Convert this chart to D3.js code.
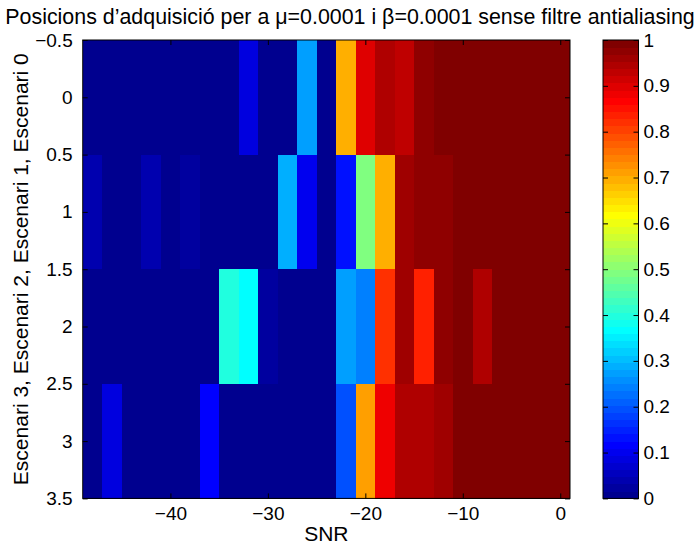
<!DOCTYPE html>
<html>
<head>
<meta charset="utf-8">
<script src="https://cdn.jsdelivr.net/npm/d3@7"></script>
<style>
  html, body { margin: 0; padding: 0; background: #fff; }
  svg { display: block; }
  text { font-family: "Liberation Sans", Arial, Helvetica, sans-serif; fill: #000; }
</style>
</head>
<body>
<svg id="chart" width="700" height="544"></svg>
<script>
// SNR column centres (dB) and scenario rows
const snr = [-48, -46, -44, -42, -40, -38, -36, -34, -32, -30, -28, -26, -24,
             -22, -20, -18, -16, -14, -12, -10, -8, -6, -4, -2, 0];
const scenarios = [0, 1, 2, 3];

// Acquisition rate per SNR for each scenario
const escenari0 = [0, 0, 0, 0, 0, 0, 0, 0, 0.08, 0, 0, 0.27, 0, 0.69, 0.90, 0.94, 0.93, 0.98, 1, 1, 1, 1, 1, 1, 1];
const escenari1 = [0.04, 0, 0, 0.04, 0, 0.02, 0, 0, 0, 0, 0.29, 0.10, 0, 0.13, 0.49, 0.69, 0.96, 0.98, 0.98, 1, 1, 1, 1, 1, 1];
const escenari2 = [0, 0, 0, 0, 0, 0, 0, 0.40, 0.37, 0.02, 0, 0, 0, 0.27, 0.24, 0.82, 0.96, 0.83, 0.98, 1, 0.94, 1, 1, 1, 1];
const escenari3 = [0, 0.08, 0, 0, 0, 0, 0.12, 0, 0, 0, 0, 0, 0, 0.19, 0.71, 0.88, 0.94, 0.94, 0.96, 1, 1, 1, 1, 1, 1];

// Axis ticks
const xTicks = [-40, -30, -20, -10, 0];
const yTicks = [-0.5, 0, 0.5, 1, 1.5, 2, 2.5, 3, 3.5];
const cbTicks = [0, 0.1, 0.2, 0.3, 0.4, 0.5, 0.6, 0.7, 0.8, 0.9, 1];

const titleText = "Posicions d\u2019adquisici\u00f3 per a \u03bc=0.0001 i \u03b2=0.0001 sense filtre antialiasing";
const xLabel = "SNR";
const yLabel = "Escenari 3, Escenari 2, Escenari 1, Escenari 0";

const rows = [escenari0, escenari1, escenari2, escenari3];

// 64-step jet colormap
const N = 64;
function u(k) {
  if (k < 1 || k > 47) return 0;
  if (k <= 16) return k / 16;
  if (k <= 31) return 1;
  return (48 - k) / 16;
}
const jet = d3.range(1, N + 1).map(i => {
  const r = i >= 25 ? u(i - 24) : 0;
  const g = (i >= 9 && i <= 55) ? u(i - 8) : 0;
  const b = i <= 39 ? u(i + 8) : 0;
  return d3.rgb(Math.round(r * 255), Math.round(g * 255), Math.round(b * 255)).formatHex();
});
const colorOf = v => jet[Math.max(0, Math.min(N - 1, Math.floor(v * N)))];

const svg = d3.select("#chart");
const plot = { left: 82.7, right: 570, top: 40, bottom: 498.4 };
const cb = { left: 603, right: 638.5, top: 40, bottom: 498.4 };
const tickFont = "19px";
const labelFont = "21px";

const x = d3.scaleLinear().domain([-49, 1]).range([plot.left, plot.right]);
const y = d3.scaleLinear().domain([-0.5, 3.5]).range([plot.top, plot.bottom]);
const fmt = v => d3.format("")(v).replace("-", "\u2212");

// Heatmap cells
const cells = [];
rows.forEach((vals, r) => vals.forEach((v, c) => cells.push({ s: snr[c], r: scenarios[r], v })));
svg.append("g").selectAll("rect").data(cells).join("rect")
  .attr("x", d => x(d.s - 1))
  .attr("y", d => y(d.r - 0.5))
  .attr("width", d => x(d.s + 1) - x(d.s - 1) + 0.4)
  .attr("height", d => y(d.r + 0.5) - y(d.r - 0.5) + 0.4)
  .attr("fill", d => colorOf(d.v))
  .attr("shape-rendering", "crispEdges");

// Axes with inward ticks
const tickLen = 5;
const ax = (g) => {
  g.select(".domain").remove();
  g.selectAll(".tick line").attr("stroke", "#000");
  g.selectAll("text").style("font-size", tickFont).attr("fill", "#000");
};
svg.append("g").attr("transform", `translate(0,${plot.bottom})`)
  .call(d3.axisBottom(x).tickValues(xTicks).tickSizeInner(-tickLen).tickSizeOuter(0).tickPadding(8).tickFormat(fmt))
  .call(ax);
svg.append("g").attr("transform", `translate(0,${plot.top})`)
  .call(d3.axisTop(x).tickValues(xTicks).tickSizeInner(-tickLen).tickSizeOuter(0).tickFormat(""))
  .call(ax);
svg.append("g").attr("transform", `translate(${plot.left},0)`)
  .call(d3.axisLeft(y).tickValues(yTicks).tickSizeInner(-tickLen).tickSizeOuter(0).tickPadding(10).tickFormat(fmt))
  .call(ax);
svg.append("g").attr("transform", `translate(${plot.right},0)`)
  .call(d3.axisRight(y).tickValues(yTicks).tickSizeInner(-tickLen).tickSizeOuter(0).tickFormat(""))
  .call(ax);

svg.append("rect")
  .attr("x", plot.left).attr("y", plot.top)
  .attr("width", plot.right - plot.left).attr("height", plot.bottom - plot.top)
  .attr("fill", "none").attr("stroke", "#000").attr("stroke-width", 1);

// Colorbar
const c = d3.scaleLinear().domain([0, 1]).range([cb.bottom, cb.top]);
svg.append("g").selectAll("rect").data(jet).join("rect")
  .attr("x", cb.left)
  .attr("y", (d, i) => c((i + 1) / N))
  .attr("width", cb.right - cb.left)
  .attr("height", (d, i) => c(i / N) - c((i + 1) / N) + 0.4)
  .attr("fill", d => d)
  .attr("shape-rendering", "crispEdges");
svg.append("g").attr("transform", `translate(${cb.right},0)`)
  .call(d3.axisRight(c).tickValues(cbTicks).tickSizeInner(-tickLen).tickSizeOuter(0).tickPadding(5).tickFormat(d3.format("")))
  .call(ax);
svg.append("g").attr("transform", `translate(${cb.left},0)`)
  .call(d3.axisLeft(c).tickValues(cbTicks).tickSizeInner(-tickLen).tickSizeOuter(0).tickFormat(""))
  .call(ax);
svg.append("rect")
  .attr("x", cb.left).attr("y", cb.top)
  .attr("width", cb.right - cb.left).attr("height", cb.bottom - cb.top)
  .attr("fill", "none").attr("stroke", "#000").attr("stroke-width", 1);

// Titles
svg.append("text").attr("x", 350).attr("y", 24).attr("text-anchor", "middle")
  .style("font-size", "21.4px").text(titleText);
svg.append("text").attr("x", (plot.left + plot.right) / 2).attr("y", 541).attr("text-anchor", "middle")
  .style("font-size", labelFont).text(xLabel);
svg.append("text").attr("transform", `translate(28,${(plot.top + plot.bottom) / 2}) rotate(-90)`)
  .attr("text-anchor", "middle").style("font-size", labelFont).text(yLabel);
</script>
</body>
</html>
